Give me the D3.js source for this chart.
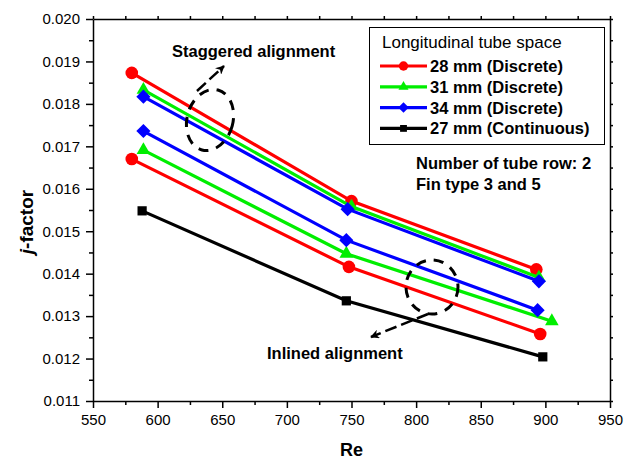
<!DOCTYPE html>
<html>
<head>
<meta charset="utf-8">
<script src="https://cdn.jsdelivr.net/npm/d3@7"></script>
<style>
    body { margin: 0; background: #fff; }
    svg text { font-family: "Liberation Sans", Arial, sans-serif; fill: #000; }
    .axis path, .axis line { stroke: #000; stroke-width: 1.5px; }
    .axis text { font-size: 15px; }
</style>
</head>
<body>
<div id="chart"></div>
<script>
// data
var seriesNames = ["28 mm (Discrete)", "31 mm (Discrete)", "34 mm (Discrete)", "27 mm (Continuous)"];
var seriesColors = ["#ff0000", "#00ee00", "#0000ff", "#000000"];
var seriesShapes = ["circle", "triangle", "diamond", "square"];

var re28Staggered = [580, 750, 893];
var j28Staggered = [0.01873, 0.01571, 0.01410];
var re28Inlined = [580, 748, 896];
var j28Inlined = [0.01670, 0.01416, 0.01258];

var re31Staggered = [589, 750, 895];
var j31Staggered = [0.01833, 0.01558, 0.01391];
var re31Inlined = [589, 746, 905];
var j31Inlined = [0.01691, 0.01447, 0.01288];

var re34Staggered = [589, 747, 895];
var j34Staggered = [0.01817, 0.01552, 0.01382];
var re34Inlined = [589, 746, 894];
var j34Inlined = [0.01736, 0.01479, 0.01314];

var re27 = [588, 746, 898];
var j27 = [0.01548, 0.01336, 0.01204];

var xTicks = [550, 600, 650, 700, 750, 800, 850, 900, 950];
var yTicks = [0.011, 0.012, 0.013, 0.014, 0.015, 0.016, 0.017, 0.018, 0.019, 0.020];

function zip(xs, ys) {
    return xs.map(function (x, i) { return { re: x, j: ys[i] }; });
}

// one entry per drawn line, in drawing order (blue ends up above red)
var lines = [
    { s: 0, pts: zip(re28Staggered, j28Staggered) },
    { s: 0, pts: zip(re28Inlined, j28Inlined) },
    { s: 1, pts: zip(re31Staggered, j31Staggered) },
    { s: 1, pts: zip(re31Inlined, j31Inlined) },
    { s: 2, pts: zip(re34Staggered, j34Staggered) },
    { s: 2, pts: zip(re34Inlined, j34Inlined) },
    { s: 3, pts: zip(re27, j27) }
];

var W = 629, H = 460;
var plotL = 93, plotT = 19, plotR = 610, plotB = 401;

var svg = d3.select("#chart").append("svg").attr("width", W).attr("height", H);

var x = d3.scaleLinear().domain([550, 950]).range([plotL, plotR]);
var y = d3.scaleLinear().domain([0.011, 0.020]).range([plotB, plotT]);

var minorX = d3.range(575, 950, 50);
var minorY = d3.range(0, 9).map(function (i) { return 0.0115 + i * 0.001; });

// minor ticks first, then major axes on top
svg.append("g").attr("class", "axis").attr("transform", "translate(0," + plotB + ")")
    .call(d3.axisBottom(x).tickValues(minorX).tickSize(4).tickFormat(""))
    .select(".domain").remove();
svg.append("g").attr("class", "axis").attr("transform", "translate(" + plotL + ",0)")
    .call(d3.axisLeft(y).tickValues(minorY).tickSize(4).tickFormat(""))
    .select(".domain").remove();
svg.append("g").attr("class", "axis").attr("transform", "translate(0," + plotT + ")")
    .call(d3.axisTop(x).tickValues(xTicks.concat(minorX)).tickSize(3).tickSizeOuter(0).tickFormat(""));
svg.append("g").attr("class", "axis").attr("transform", "translate(" + plotR + ",0)")
    .call(d3.axisRight(y).tickValues(yTicks.concat(minorY)).tickSize(3).tickSizeOuter(0).tickFormat(""));

svg.append("g").attr("class", "axis").attr("transform", "translate(0," + plotB + ")")
    .call(d3.axisBottom(x).tickValues(xTicks).tickSize(7).tickPadding(6).tickSizeOuter(0));
svg.append("g").attr("class", "axis").attr("transform", "translate(" + plotL + ",0)")
    .call(d3.axisLeft(y).tickValues(yTicks).tickSize(7).tickPadding(6).tickSizeOuter(0)
        .tickFormat(d3.format(".3f")));

// axis titles
svg.append("text")
    .attr("x", (plotL + plotR) / 2).attr("y", 456)
    .attr("text-anchor", "middle")
    .style("font-size", "18px").style("font-weight", "bold")
    .text("Re");

var yTitle = svg.append("text")
    .attr("transform", "translate(33," + 222 + ") rotate(-90)")
    .attr("text-anchor", "middle")
    .style("font-size", "19px").style("font-weight", "bold");
yTitle.append("tspan").style("font-style", "italic").text("j");
yTitle.append("tspan").text("-factor");

function symbolFor(shape, big) {
    var k = big ? 1 : 0.55;
    if (shape === "circle") return d3.symbol().type(d3.symbolCircle).size(125 * k)();
    if (shape === "triangle") return d3.symbol().type(d3.symbolTriangle).size(80 * k)();
    if (shape === "diamond") return d3.symbol().type(d3.symbolSquare).size(100 * k)();
    return d3.symbol().type(d3.symbolSquare).size(85 * k)();
}

var line = d3.line()
    .x(function (d) { return x(d.re); })
    .y(function (d) { return y(d.j); });

lines.forEach(function (l) {
    var g = svg.append("g");
    g.append("path")
        .datum(l.pts)
        .attr("d", line)
        .attr("fill", "none")
        .attr("stroke", seriesColors[l.s])
        .attr("stroke-width", 3.2);
    g.selectAll(".pt")
        .data(l.pts)
        .enter()
        .append("path")
        .attr("d", symbolFor(seriesShapes[l.s], true))
        .attr("transform", function (d) {
            var r = seriesShapes[l.s] === "diamond" ? " rotate(45)" : "";
            return "translate(" + x(d.re) + "," + y(d.j) + ")" + r;
        })
        .attr("fill", seriesColors[l.s]);
});

// legend
var legend = svg.append("g");
legend.append("rect")
    .attr("x", 369.5).attr("y", 27.5).attr("width", 235).attr("height", 117)
    .attr("fill", "#fff").attr("stroke", "#000").attr("stroke-width", 1);
legend.append("text")
    .attr("x", 382).attr("y", 48)
    .style("font-size", "17px")
    .text("Longitudinal tube space");
seriesNames.forEach(function (name, i) {
    var cy = 66 + i * 20.8;
    legend.append("line")
        .attr("x1", 380).attr("x2", 427).attr("y1", cy).attr("y2", cy)
        .attr("stroke", seriesColors[i]).attr("stroke-width", 3.2);
    legend.append("path")
        .attr("d", symbolFor(seriesShapes[i], false))
        .attr("transform", "translate(403.5," + cy + ")" + (seriesShapes[i] === "diamond" ? " rotate(45)" : ""))
        .attr("fill", seriesColors[i]);
    legend.append("text")
        .attr("x", 430).attr("y", cy).attr("dy", "0.36em")
        .style("font-size", "16.5px").style("font-weight", "bold")
        .text(name);
});

// annotations
function note(tx, ty, str) {
    svg.append("text").attr("x", tx).attr("y", ty)
        .style("font-size", "16.5px").style("font-weight", "bold")
        .text(str);
}
note(172, 57, "Staggered alignment");
note(416, 169, "Number of tube row: 2");
note(416, 190, "Fin type 3 and 5");
note(267, 359, "Inlined alignment");

var defs = svg.append("defs");
defs.append("marker")
    .attr("id", "head")
    .attr("viewBox", "0 0 10 10")
    .attr("refX", 9).attr("refY", 5)
    .attr("markerWidth", 11).attr("markerHeight", 9)
    .attr("markerUnits", "userSpaceOnUse")
    .attr("orient", "auto")
    .append("path").attr("d", "M0,0 L10,5 L0,10 L3,5 z").attr("fill", "#000");

var ellipses = [
    { cx: 210, cy: 120, rx: 23, ry: 31, rot: 15 },
    { cx: 432, cy: 287, rx: 26, ry: 27, rot: 0 }
];
svg.selectAll(".loop")
    .data(ellipses)
    .enter()
    .append("ellipse")
    .attr("cx", 0).attr("cy", 0)
    .attr("rx", function (d) { return d.rx; })
    .attr("ry", function (d) { return d.ry; })
    .attr("transform", function (d) { return "translate(" + d.cx + "," + d.cy + ") rotate(" + d.rot + ")"; })
    .attr("fill", "none").attr("stroke", "#000")
    .attr("stroke-width", 3).attr("stroke-dasharray", "10,8");

var arrows = [
    { x1: 197, y1: 91, x2: 224, y2: 66 },
    { x1: 428, y1: 314, x2: 371, y2: 337 }
];
svg.selectAll(".arrow")
    .data(arrows)
    .enter()
    .append("line")
    .attr("x1", function (d) { return d.x1; })
    .attr("y1", function (d) { return d.y1; })
    .attr("x2", function (d) { return d.x2; })
    .attr("y2", function (d) { return d.y2; })
    .attr("stroke", "#000").attr("stroke-width", 2.5)
    .attr("stroke-dasharray", "12,5")
    .attr("marker-end", "url(#head)");
</script>
</body>
</html>
